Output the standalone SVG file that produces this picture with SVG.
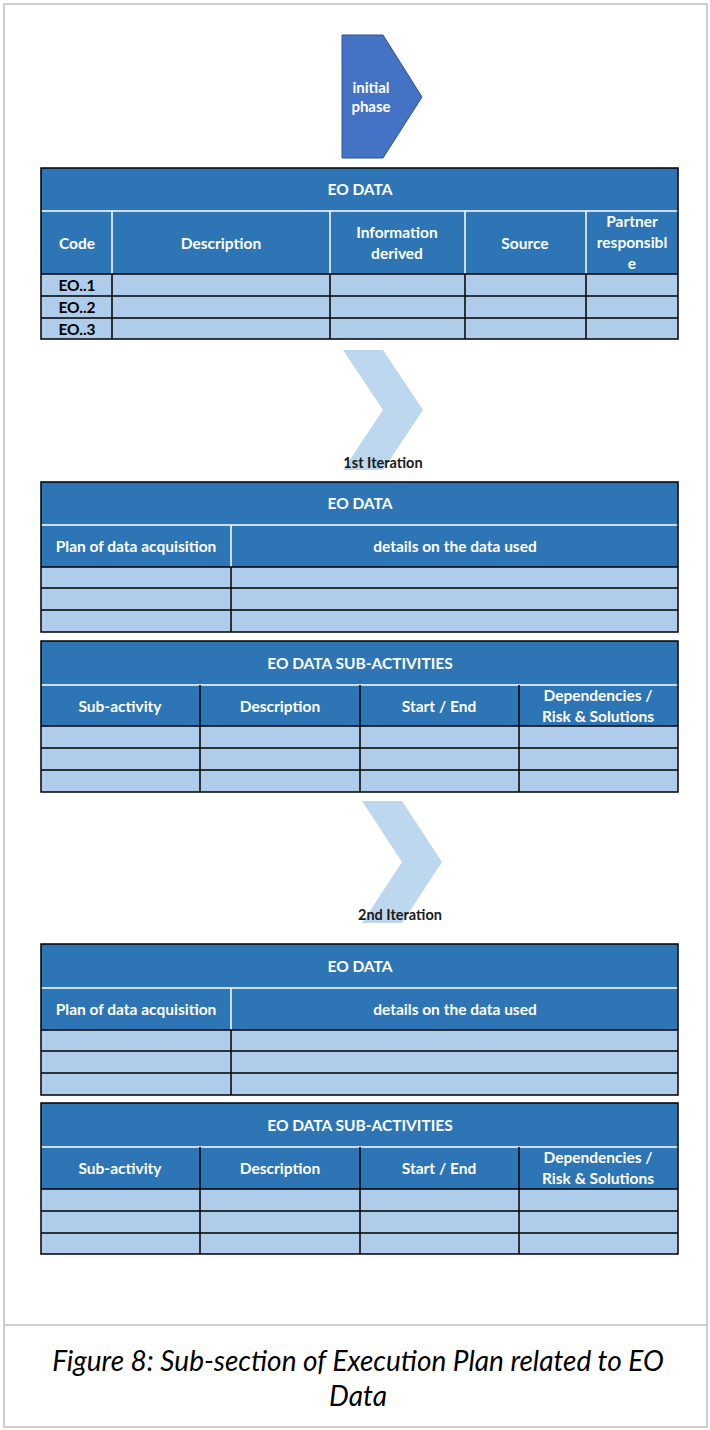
<svg xmlns="http://www.w3.org/2000/svg" width="710" height="1430" viewBox="0 0 710 1430">
<style>
.hdr{fill:#2E75B6}
.row{fill:#AFCDEA}
.wl{stroke:#FFFFFF;stroke-width:1.5;fill:none}
.bl{stroke:#000000;stroke-width:1.5;fill:none}
.ht{font-family:Lato,"Liberation Sans",sans-serif;font-weight:bold;font-size:15.5px;fill:#FFFFFF;text-anchor:middle}
.dt{font-family:Lato,"Liberation Sans",sans-serif;font-weight:bold;font-size:15.5px;fill:#000000;text-anchor:middle}
.it{font-family:Lato,"Liberation Sans",sans-serif;font-weight:bold;font-size:14.5px;fill:#1a1a1a;text-anchor:middle}
.chev{fill:#BDD7EE}
.cap{font-family:Lato,"Liberation Sans",sans-serif;font-style:italic;font-size:28px;fill:#000000;text-anchor:middle}
</style>
<rect x="0" y="0" width="710" height="1430" fill="#FFFFFF"/>
<rect x="4" y="4" width="703" height="1423" fill="none" stroke="#BFBFBF" stroke-width="1.5"/>
<line x1="4" y1="1325" x2="707" y2="1325" stroke="#BFBFBF" stroke-width="1.5"/>

<g id="initial-phase">
<polygon points="342,35 383,35 422,97 383,158 342,158" fill="#4472C4" stroke="#2F528F" stroke-width="1"/>
<text x="371" y="93" font-family="Lato,'Liberation Sans',sans-serif" font-weight="bold" font-size="15" fill="#FFFFFF" text-anchor="middle">initial</text>
<text x="371" y="112" font-family="Lato,'Liberation Sans',sans-serif" font-weight="bold" font-size="15" fill="#FFFFFF" text-anchor="middle">phase</text>
</g>

<g id="table-eo-data-initial">
<rect class="hdr" x="41" y="168" width="637" height="106"/>
<rect class="row" x="41" y="274" width="637" height="65"/>
<line class="wl" x1="41" y1="211" x2="678" y2="211"/>
<path class="wl" d="M112 211V274M330 211V274M465 211V274M586 211V274"/>
<path class="bl" d="M41 274H678M41 296H678M41 318H678M112 274V339M330 274V339M465 274V339M586 274V339"/>
<rect class="bl" x="41" y="168" width="637" height="171"/>
<text class="ht" x="360" y="195">EO DATA</text>
<text class="ht" x="77" y="249">Code</text>
<text class="ht" x="221" y="249">Description</text>
<text class="ht" x="397" y="238">Information</text>
<text class="ht" x="397" y="259">derived</text>
<text class="ht" x="632" y="227">Partner</text>
<text class="ht" x="525" y="249">Source</text>
<text class="ht" x="632" y="248">responsibl</text>
<text class="ht" x="632" y="269">e</text>
<text class="dt" x="77" y="291">EO..1</text>
<text class="dt" x="77" y="313">EO..2</text>
<text class="dt" x="77" y="335">EO..3</text>
</g>

<g id="iteration-1">
<polygon class="chev" points="343,350 383,350 423,410 383,470 343,470 383,410"/>
<text class="it" x="383" y="468">1st Iteration</text>
</g>

<g id="table-eo-data-iter1">
<rect class="hdr" x="41" y="482" width="637" height="85"/>
<rect class="row" x="41" y="567" width="637" height="65"/>
<line class="wl" x1="41" y1="525" x2="678" y2="525"/>
<path class="wl" d="M231 525V567"/>
<path class="bl" d="M41 567H678M41 588H678M41 610H678M231 567V632"/>
<rect class="bl" x="41" y="482" width="637" height="150"/>
<text class="ht" x="360" y="509">EO DATA</text>
<text class="ht" x="136" y="552">Plan of data acquisition</text>
<text class="ht" x="455" y="552">details on the data used</text>
</g>

<g id="table-subactivities-iter1">
<rect class="hdr" x="41" y="641" width="637" height="85"/>
<rect class="row" x="41" y="726" width="637" height="66"/>
<line class="wl" x1="41" y1="685" x2="678" y2="685"/>
<path class="bl" d="M200 685V792M360 685V792M519 685V792"/>
<path class="bl" d="M41 726H678M41 748H678M41 770H678"/>
<rect class="bl" x="41" y="641" width="637" height="151"/>
<text class="ht" x="360" y="669">EO DATA SUB-ACTIVITIES</text>
<text class="ht" x="120" y="712">Sub-activity</text>
<text class="ht" x="280" y="712">Description</text>
<text class="ht" x="439" y="712">Start / End</text>
<text class="ht" x="598" y="701">Dependencies /</text>
<text class="ht" x="598" y="722">Risk &amp; Solutions</text>
</g>

<g id="iteration-2">
<polygon class="chev" points="362,801 402,801 442,862 402,923 362,923 402,862"/>
<text class="it" x="400" y="920">2nd Iteration</text>
</g>

<g id="table-eo-data-iter2">
<rect class="hdr" x="41" y="944" width="637" height="86"/>
<rect class="row" x="41" y="1030" width="637" height="65"/>
<line class="wl" x1="41" y1="988" x2="678" y2="988"/>
<path class="wl" d="M231 988V1030"/>
<path class="bl" d="M41 1030H678M41 1051H678M41 1073H678M231 1030V1095"/>
<rect class="bl" x="41" y="944" width="637" height="151"/>
<text class="ht" x="360" y="972">EO DATA</text>
<text class="ht" x="136" y="1015">Plan of data acquisition</text>
<text class="ht" x="455" y="1015">details on the data used</text>
</g>

<g id="table-subactivities-iter2">
<rect class="hdr" x="41" y="1103" width="637" height="86"/>
<rect class="row" x="41" y="1189" width="637" height="65"/>
<line class="wl" x1="41" y1="1147" x2="678" y2="1147"/>
<path class="bl" d="M200 1147V1254M360 1147V1254M519 1147V1254"/>
<path class="bl" d="M41 1189H678M41 1211H678M41 1233H678"/>
<rect class="bl" x="41" y="1103" width="637" height="151"/>
<text class="ht" x="360" y="1131">EO DATA SUB-ACTIVITIES</text>
<text class="ht" x="120" y="1174">Sub-activity</text>
<text class="ht" x="280" y="1174">Description</text>
<text class="ht" x="439" y="1174">Start / End</text>
<text class="ht" x="598" y="1163">Dependencies /</text>
<text class="ht" x="598" y="1184">Risk &amp; Solutions</text>
</g>

<g id="caption">
<text class="cap" x="358" y="1371">Figure 8: Sub-section of Execution Plan related to EO</text>
<text class="cap" x="358" y="1406">Data</text>
</g>
</svg>
